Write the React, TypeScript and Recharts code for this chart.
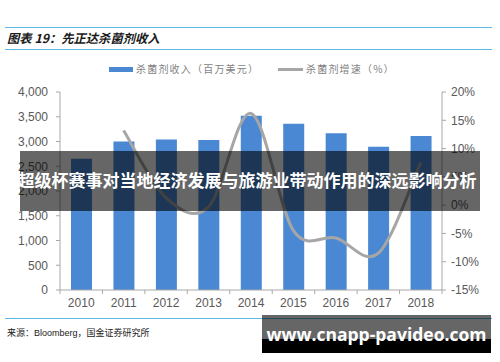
import React from "react"
import { ComposedChart, Bar, Line, XAxis, YAxis } from "recharts"

const years = ["2010", "2011", "2012", "2013", "2014", "2015", "2016", "2017", "2018"]
const revenue = [2650, 3000, 3040, 3030, 3520, 3360, 3165, 2895, 3111]
const growth: (number | null)[] = [null, 13.2, 1.3, -0.3, 16.2, -4.5, -5.8, -8.5, 7.5]
const leftTicks = [0, 500, 1000, 1500, 2000, 2500, 3000, 3500, 4000]
const rightTicks = [-15, -10, -5, 0, 5, 10, 15, 20]

const data = years.map((year, i) => ({ year, revenue: revenue[i], growth: growth[i] }))

const BLUE = "#4a88d4"
const GREY = "#a6a6a6"
const AXIS = "#a8a8a8"
const RULE = "#5cb9e4"
const SANS = "'Liberation Sans', Arial, sans-serif"
const CJK = "'Noto Sans CJK SC', 'Noto Sans', sans-serif"

const PLOT_LEFT = 60
const PLOT_RIGHT = 442
const HALF_BAND = (PLOT_RIGHT - PLOT_LEFT) / years.length / 2

// Excel-style smoothed line (uniform Catmull-Rom)
function smoothCurve(context: any) {
    let pts: [number, number][] = []
    return {
        areaStart() {},
        areaEnd() {},
        lineStart() {
            pts = []
        },
        point(x: number, y: number) {
            pts.push([+x, +y])
        },
        lineEnd() {
            const n = pts.length
            if (!n) return
            context.moveTo(pts[0][0], pts[0][1])
            for (let i = 0; i < n - 1; i++) {
                const p0 = pts[Math.max(i - 1, 0)]
                const p1 = pts[i]
                const p2 = pts[i + 1]
                const p3 = pts[Math.min(i + 2, n - 1)]
                context.bezierCurveTo(
                    p1[0] + (p2[0] - p0[0]) / 6,
                    p1[1] + (p2[1] - p0[1]) / 6,
                    p2[0] - (p3[0] - p1[0]) / 6,
                    p2[1] - (p3[1] - p1[1]) / 6,
                    p2[0],
                    p2[1]
                )
            }
        },
    }
}

function YearTick(props: any) {
    const { x, y, payload, index } = props
    const last = index === years.length - 1
    return (
        <g>
            <line x1={x - HALF_BAND} y1={y} x2={x - HALF_BAND} y2={y + 4} stroke={AXIS} />
            {last && <line x1={x + HALF_BAND} y1={y} x2={x + HALF_BAND} y2={y + 4} stroke={AXIS} />}
            <text x={x} y={y + 17} textAnchor="middle" fontSize={12} fill="#595959" fontFamily={SANS}>
                {payload.value}
            </text>
        </g>
    )
}

export default function App() {
    return (
        <div
            style={{
                position: "absolute",
                left: 0,
                top: 0,
                width: 500,
                height: 362,
                background: "#fff",
                overflow: "hidden",
                fontFamily: CJK,
            }}
        >
            <div style={{ position: "absolute", left: 5, top: 27, width: 487, height: 1, background: RULE }} />
            <div
                style={{
                    position: "absolute",
                    left: 7,
                    top: 28,
                    fontSize: 12.3,
                    fontWeight: 700,
                    fontStyle: "italic",
                    color: "#1a1a1a",
                    lineHeight: "20px",
                    whiteSpace: "nowrap",
                }}
            >
                图表 19：先正达杀菌剂收入
            </div>
            <div style={{ position: "absolute", left: 5, top: 49, width: 487, height: 1, background: RULE }} />

            {/* legend */}
            <div style={{ position: "absolute", left: 109, top: 67, width: 24, height: 5, background: BLUE }} />
            <div
                style={{
                    position: "absolute",
                    left: 136,
                    top: 61,
                    fontSize: 10,
                    letterSpacing: 1.2,
                    color: "#7f7f7f",
                    lineHeight: "16px",
                    whiteSpace: "nowrap",
                }}
            >
                杀菌剂收入（百万美元）
            </div>
            <div style={{ position: "absolute", left: 278, top: 68, width: 25, height: 3, background: GREY }} />
            <div
                style={{
                    position: "absolute",
                    left: 306,
                    top: 61,
                    fontSize: 10,
                    letterSpacing: 1.2,
                    color: "#7f7f7f",
                    lineHeight: "16px",
                    whiteSpace: "nowrap",
                }}
            >
                杀菌剂增速（%）
            </div>

            <div style={{ position: "absolute", left: 0, top: 0 }}>
                <ComposedChart width={500} height={362} data={data} margin={{ top: 92, right: 0, bottom: 42, left: 0 }}>
                    <XAxis
                        dataKey="year"
                        height={30}
                        stroke={AXIS}
                        tickLine={false}
                        tickSize={0}
                        tickMargin={0}
                        tick={<YearTick />}
                        interval={0}
                    />
                    <YAxis
                        yAxisId="left"
                        width={60}
                        domain={[0, 4000]}
                        ticks={leftTicks}
                        stroke={AXIS}
                        tickSize={4}
                        tickMargin={8}
                        tick={{ fontSize: 12, fill: "#595959", fontFamily: SANS }}
                        tickFormatter={(v: number) => v.toLocaleString("en-US")}
                    />
                    <YAxis
                        yAxisId="right"
                        orientation="right"
                        width={58}
                        domain={[-15, 20]}
                        ticks={rightTicks}
                        stroke={AXIS}
                        tickSize={4}
                        tickMargin={5}
                        tick={{ fontSize: 12, fill: "#595959", fontFamily: SANS }}
                        tickFormatter={(v: number) => `${v}%`}
                    />
                    <Bar yAxisId="left" dataKey="revenue" fill={BLUE} barSize={21} isAnimationActive={false} />
                    <Line
                        yAxisId="right"
                        dataKey="growth"
                        type={smoothCurve as any}
                        stroke={GREY}
                        strokeWidth={3}
                        dot={false}
                        activeDot={false}
                        isAnimationActive={false}
                    />
                </ComposedChart>
            </div>

            <div style={{ position: "absolute", left: 5, top: 318, width: 487, height: 1, background: RULE }} />
            <div
                style={{
                    position: "absolute",
                    left: 7,
                    top: 326,
                    fontSize: 9,
                    color: "#222",
                    lineHeight: "14px",
                    whiteSpace: "nowrap",
                }}
            >
                来源：<span style={{ fontFamily: SANS }}>Bloomberg</span>，国金证券研究所
            </div>

            {/* overlay banner */}
            <div
                style={{
                    position: "absolute",
                    left: 20,
                    top: 151,
                    width: 460,
                    height: 60,
                    background: "rgba(0,0,0,0.6)",
                }}
            />
            <div
                style={{
                    position: "absolute",
                    left: 0,
                    top: 169,
                    width: 494,
                    textAlign: "center",
                    fontSize: 17,
                    fontWeight: 700,
                    color: "#fff",
                    lineHeight: "22px",
                    whiteSpace: "nowrap",
                }}
            >
                超级杯赛事对当地经济发展与旅游业带动作用的深远影响分析
            </div>

            {/* watermark */}
            <div
                style={{
                    position: "absolute",
                    left: 262,
                    top: 315,
                    width: 229,
                    height: 38,
                    background: "linear-gradient(to bottom, rgba(0,0,0,0.6) 0%, rgba(0,0,0,0.6) 62%, #000 62%, #000 100%)",
                    color: "#fff",
                    fontFamily: "'Open Sans', sans-serif",
                    fontWeight: 700,
                    fontSize: 17.5,
                    lineHeight: "38px",
                    textAlign: "center",
                    whiteSpace: "nowrap",
                }}
            >
                www.cnapp-pavideo.com
            </div>
        </div>
    )
}
